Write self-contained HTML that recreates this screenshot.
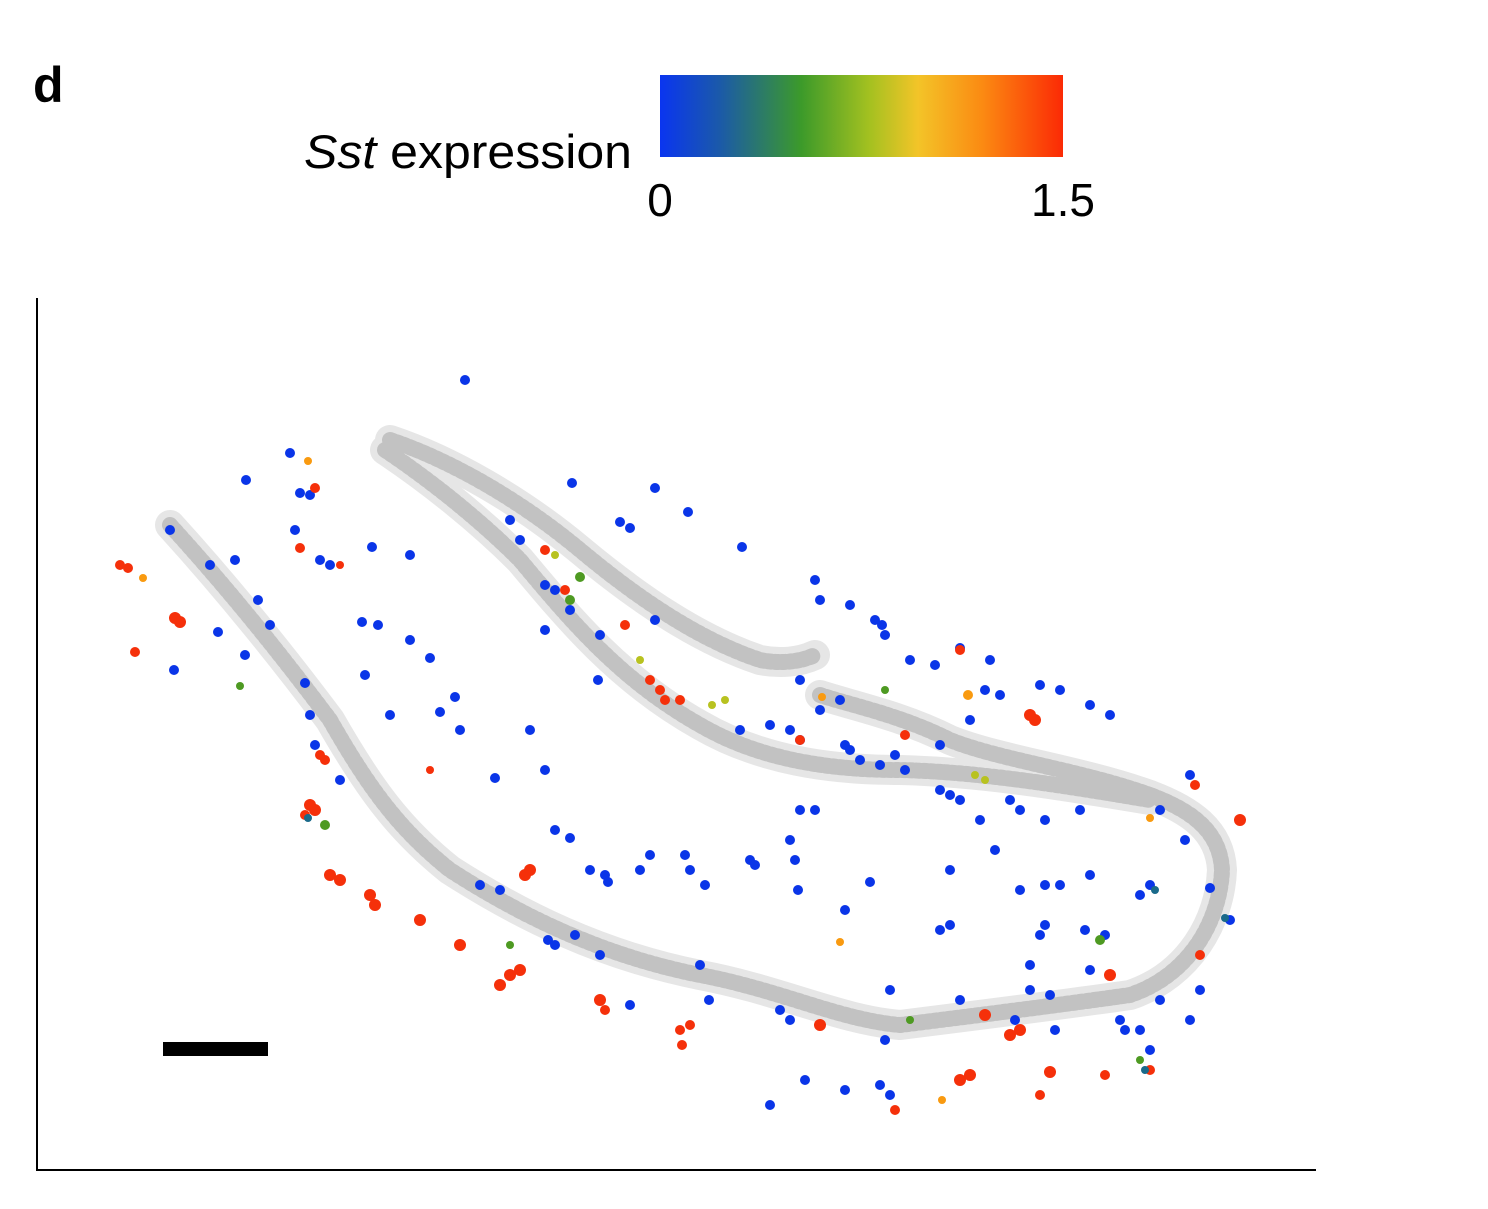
<!DOCTYPE html>
<html><head><meta charset="utf-8"><style>
html,body{margin:0;padding:0;background:#fff;width:1488px;height:1209px;overflow:hidden}
svg{display:block}
</style></head><body>
<svg width="1488" height="1209" viewBox="0 0 1488 1209" xmlns="http://www.w3.org/2000/svg">
<defs>
<linearGradient id="cb" x1="0" x2="1" y1="0" y2="0">
<stop offset="0" stop-color="#0a35f0"/>
<stop offset="0.15" stop-color="#1b5aa8"/>
<stop offset="0.35" stop-color="#3c9a2a"/>
<stop offset="0.52" stop-color="#a4c120"/>
<stop offset="0.64" stop-color="#f3c428"/>
<stop offset="0.8" stop-color="#fb8a12"/>
<stop offset="1" stop-color="#fb2a05"/>
</linearGradient>
</defs>
<text x="33" y="102" font-family="Liberation Sans, sans-serif" font-weight="bold" font-size="50">d</text>
<text x="304" y="168" textLength="328" lengthAdjust="spacingAndGlyphs" font-family="Liberation Sans, sans-serif" font-size="47"><tspan font-style="italic">Sst</tspan> expression</text>
<rect x="660" y="75" width="403" height="82" fill="url(#cb)"/>
<text x="660" y="216" text-anchor="middle" font-family="Liberation Sans, sans-serif" font-size="46">0</text>
<text x="1063" y="216" text-anchor="middle" font-family="Liberation Sans, sans-serif" font-size="46">1.5</text>
<line x1="37" y1="298" x2="37" y2="1171" stroke="#000" stroke-width="2"/>
<line x1="36" y1="1170" x2="1316" y2="1170" stroke="#000" stroke-width="2"/>
<rect x="163" y="1042" width="105" height="14" fill="#000"/>
<g fill="none" stroke-linecap="round" stroke-linejoin="round">
<g stroke="#e6e6e6" stroke-width="30">
<path d="M170,525 C220,580 270,640 330,720 C370,790 400,830 450,870 C520,915 600,955 700,975 C780,990 840,1020 900,1025 C980,1015 1060,1005 1130,995 C1190,975 1220,920 1222,870 C1220,830 1190,810 1150,795"/>
<path d="M1150,795 C1080,770 1000,760 950,740 C900,715 850,705 820,695"/>
<path d="M385,450 C430,480 480,520 520,560 C570,620 620,680 700,725 C760,760 830,770 900,770 C980,772 1060,785 1150,800"/>
<path d="M390,440 C450,460 520,500 580,550 C640,600 700,640 760,660 C780,664 800,662 815,655"/>
</g>
<g stroke="#c2c2c2" stroke-width="16" stroke-dasharray="3 4">
<path d="M170,525 C220,580 270,640 330,720 C370,790 400,830 450,870 C520,915 600,955 700,975 C780,990 840,1020 900,1025 C980,1015 1060,1005 1130,995 C1190,975 1220,920 1222,870 C1220,830 1190,810 1150,795"/>
<path d="M1150,795 C1080,770 1000,760 950,740 C900,715 850,705 820,695"/>
<path d="M385,450 C430,480 480,520 520,560 C570,620 620,680 700,725 C760,760 830,770 900,770 C980,772 1060,785 1150,800"/>
<path d="M390,440 C450,460 520,500 580,550 C640,600 700,640 760,660 C780,664 800,662 815,655"/>
</g>
</g>
<g fill="#0a35e8">
<circle cx="465" cy="380" r="5"/><circle cx="290" cy="453" r="5"/><circle cx="246" cy="480" r="5"/><circle cx="300" cy="493" r="5"/><circle cx="310" cy="495" r="5"/><circle cx="572" cy="483" r="5"/><circle cx="655" cy="488" r="5"/><circle cx="688" cy="512" r="5"/><circle cx="510" cy="520" r="5"/><circle cx="520" cy="540" r="5"/><circle cx="620" cy="522" r="5"/><circle cx="630" cy="528" r="5"/><circle cx="742" cy="547" r="5"/><circle cx="410" cy="555" r="5"/><circle cx="372" cy="547" r="5"/><circle cx="320" cy="560" r="5"/><circle cx="330" cy="565" r="5"/><circle cx="295" cy="530" r="5"/><circle cx="210" cy="565" r="5"/><circle cx="235" cy="560" r="5"/><circle cx="170" cy="530" r="5"/><circle cx="258" cy="600" r="5"/><circle cx="270" cy="625" r="5"/><circle cx="218" cy="632" r="5"/><circle cx="245" cy="655" r="5"/><circle cx="174" cy="670" r="5"/><circle cx="365" cy="675" r="5"/><circle cx="362" cy="622" r="5"/><circle cx="378" cy="625" r="5"/><circle cx="410" cy="640" r="5"/><circle cx="430" cy="658" r="5"/><circle cx="455" cy="697" r="5"/><circle cx="440" cy="712" r="5"/><circle cx="460" cy="730" r="5"/><circle cx="390" cy="715" r="5"/><circle cx="530" cy="730" r="5"/><circle cx="545" cy="770" r="5"/><circle cx="495" cy="778" r="5"/><circle cx="305" cy="683" r="5"/><circle cx="315" cy="745" r="5"/><circle cx="340" cy="780" r="5"/><circle cx="310" cy="715" r="5"/><circle cx="555" cy="830" r="5"/><circle cx="570" cy="838" r="5"/><circle cx="590" cy="870" r="5"/><circle cx="605" cy="875" r="5"/><circle cx="608" cy="882" r="5"/><circle cx="640" cy="870" r="5"/><circle cx="650" cy="855" r="5"/><circle cx="685" cy="855" r="5"/><circle cx="690" cy="870" r="5"/><circle cx="705" cy="885" r="5"/><circle cx="750" cy="860" r="5"/><circle cx="755" cy="865" r="5"/><circle cx="790" cy="840" r="5"/><circle cx="795" cy="860" r="5"/><circle cx="798" cy="890" r="5"/><circle cx="815" cy="810" r="5"/><circle cx="800" cy="810" r="5"/><circle cx="845" cy="910" r="5"/><circle cx="870" cy="882" r="5"/><circle cx="940" cy="930" r="5"/><circle cx="950" cy="925" r="5"/><circle cx="1040" cy="935" r="5"/><circle cx="1045" cy="925" r="5"/><circle cx="1085" cy="930" r="5"/><circle cx="1105" cy="935" r="5"/><circle cx="1140" cy="895" r="5"/><circle cx="1150" cy="885" r="5"/><circle cx="1185" cy="840" r="5"/><circle cx="1210" cy="888" r="5"/><circle cx="1190" cy="775" r="5"/><circle cx="1160" cy="810" r="5"/><circle cx="1010" cy="800" r="5"/><circle cx="1020" cy="810" r="5"/><circle cx="1045" cy="820" r="5"/><circle cx="1080" cy="810" r="5"/><circle cx="1060" cy="885" r="5"/><circle cx="1045" cy="885" r="5"/><circle cx="1020" cy="890" r="5"/><circle cx="1090" cy="875" r="5"/><circle cx="995" cy="850" r="5"/><circle cx="980" cy="820" r="5"/><circle cx="940" cy="790" r="5"/><circle cx="950" cy="795" r="5"/><circle cx="960" cy="800" r="5"/><circle cx="860" cy="760" r="5"/><circle cx="880" cy="765" r="5"/><circle cx="905" cy="770" r="5"/><circle cx="845" cy="745" r="5"/><circle cx="850" cy="750" r="5"/><circle cx="740" cy="730" r="5"/><circle cx="770" cy="725" r="5"/><circle cx="790" cy="730" r="5"/><circle cx="800" cy="740" r="5"/><circle cx="820" cy="710" r="5"/><circle cx="840" cy="700" r="5"/><circle cx="882" cy="625" r="5"/><circle cx="885" cy="635" r="5"/><circle cx="910" cy="660" r="5"/><circle cx="935" cy="665" r="5"/><circle cx="960" cy="648" r="5"/><circle cx="990" cy="660" r="5"/><circle cx="985" cy="690" r="5"/><circle cx="1000" cy="695" r="5"/><circle cx="1040" cy="685" r="5"/><circle cx="1060" cy="690" r="5"/><circle cx="1090" cy="705" r="5"/><circle cx="1110" cy="715" r="5"/><circle cx="970" cy="720" r="5"/><circle cx="940" cy="745" r="5"/><circle cx="895" cy="755" r="5"/><circle cx="850" cy="605" r="5"/><circle cx="875" cy="620" r="5"/><circle cx="815" cy="580" r="5"/><circle cx="820" cy="600" r="5"/><circle cx="800" cy="680" r="5"/><circle cx="598" cy="680" r="5"/><circle cx="555" cy="590" r="5"/><circle cx="545" cy="585" r="5"/><circle cx="570" cy="610" r="5"/><circle cx="600" cy="635" r="5"/><circle cx="655" cy="620" r="5"/><circle cx="545" cy="630" r="5"/><circle cx="548" cy="940" r="5"/><circle cx="555" cy="945" r="5"/><circle cx="575" cy="935" r="5"/><circle cx="600" cy="955" r="5"/><circle cx="700" cy="965" r="5"/><circle cx="709" cy="1000" r="5"/><circle cx="630" cy="1005" r="5"/><circle cx="780" cy="1010" r="5"/><circle cx="790" cy="1020" r="5"/><circle cx="805" cy="1080" r="5"/><circle cx="845" cy="1090" r="5"/><circle cx="880" cy="1085" r="5"/><circle cx="890" cy="1095" r="5"/><circle cx="885" cy="1040" r="5"/><circle cx="890" cy="990" r="5"/><circle cx="770" cy="1105" r="5"/><circle cx="960" cy="1000" r="5"/><circle cx="1015" cy="1020" r="5"/><circle cx="1030" cy="990" r="5"/><circle cx="1050" cy="995" r="5"/><circle cx="1055" cy="1030" r="5"/><circle cx="1120" cy="1020" r="5"/><circle cx="1125" cy="1030" r="5"/><circle cx="1160" cy="1000" r="5"/><circle cx="1190" cy="1020" r="5"/><circle cx="1200" cy="990" r="5"/><circle cx="1230" cy="920" r="5"/><circle cx="1140" cy="1030" r="5"/><circle cx="1150" cy="1050" r="5"/><circle cx="1090" cy="970" r="5"/><circle cx="1030" cy="965" r="5"/><circle cx="950" cy="870" r="5"/><circle cx="500" cy="890" r="5"/><circle cx="480" cy="885" r="5"/>
</g>
<g fill="#f5300a">
<circle cx="120" cy="565" r="5"/><circle cx="128" cy="568" r="5"/><circle cx="135" cy="652" r="5"/><circle cx="175" cy="618" r="6"/><circle cx="180" cy="622" r="6"/><circle cx="310" cy="805" r="6"/><circle cx="315" cy="810" r="6"/><circle cx="305" cy="815" r="5"/><circle cx="330" cy="875" r="6"/><circle cx="340" cy="880" r="6"/><circle cx="370" cy="895" r="6"/><circle cx="375" cy="905" r="6"/><circle cx="420" cy="920" r="6"/><circle cx="460" cy="945" r="6"/><circle cx="500" cy="985" r="6"/><circle cx="510" cy="975" r="6"/><circle cx="520" cy="970" r="6"/><circle cx="525" cy="875" r="6"/><circle cx="530" cy="870" r="6"/><circle cx="600" cy="1000" r="6"/><circle cx="605" cy="1010" r="5"/><circle cx="680" cy="1030" r="5"/><circle cx="690" cy="1025" r="5"/><circle cx="820" cy="1025" r="6"/><circle cx="985" cy="1015" r="6"/><circle cx="1010" cy="1035" r="6"/><circle cx="1020" cy="1030" r="6"/><circle cx="960" cy="1080" r="6"/><circle cx="970" cy="1075" r="6"/><circle cx="1050" cy="1072" r="6"/><circle cx="1040" cy="1095" r="5"/><circle cx="1105" cy="1075" r="5"/><circle cx="1110" cy="975" r="6"/><circle cx="1150" cy="1070" r="5"/><circle cx="1240" cy="820" r="6"/><circle cx="1195" cy="785" r="5"/><circle cx="1030" cy="715" r="6"/><circle cx="1035" cy="720" r="6"/><circle cx="960" cy="650" r="5"/><circle cx="905" cy="735" r="5"/><circle cx="800" cy="740" r="5"/><circle cx="650" cy="680" r="5"/><circle cx="660" cy="690" r="5"/><circle cx="665" cy="700" r="5"/><circle cx="680" cy="700" r="5"/><circle cx="625" cy="625" r="5"/><circle cx="545" cy="550" r="5"/><circle cx="565" cy="590" r="5"/><circle cx="320" cy="755" r="5"/><circle cx="325" cy="760" r="5"/><circle cx="430" cy="770" r="4"/><circle cx="315" cy="488" r="5"/><circle cx="300" cy="548" r="5"/><circle cx="340" cy="565" r="4"/><circle cx="895" cy="1110" r="5"/><circle cx="682" cy="1045" r="5"/><circle cx="1200" cy="955" r="5"/>
</g>
<g fill="#f99a10"><circle cx="308" cy="461" r="4"/><circle cx="143" cy="578" r="4"/><circle cx="1150" cy="818" r="4"/><circle cx="840" cy="942" r="4"/><circle cx="942" cy="1100" r="4"/><circle cx="968" cy="695" r="5"/><circle cx="822" cy="697" r="4"/></g>
<g fill="#4e9a22"><circle cx="240" cy="686" r="4"/><circle cx="580" cy="577" r="5"/><circle cx="570" cy="600" r="5"/><circle cx="325" cy="825" r="5"/><circle cx="510" cy="945" r="4"/><circle cx="885" cy="690" r="4"/><circle cx="910" cy="1020" r="4"/><circle cx="1100" cy="940" r="5"/><circle cx="1140" cy="1060" r="4"/></g>
<g fill="#b8c220"><circle cx="725" cy="700" r="4"/><circle cx="712" cy="705" r="4"/><circle cx="975" cy="775" r="4"/><circle cx="985" cy="780" r="4"/><circle cx="640" cy="660" r="4"/><circle cx="555" cy="555" r="4"/></g>
<g fill="#1a6a8a"><circle cx="1225" cy="918" r="4"/><circle cx="1145" cy="1070" r="4"/><circle cx="1155" cy="890" r="4"/><circle cx="308" cy="818" r="4"/></g>
</svg>
</body></html>
